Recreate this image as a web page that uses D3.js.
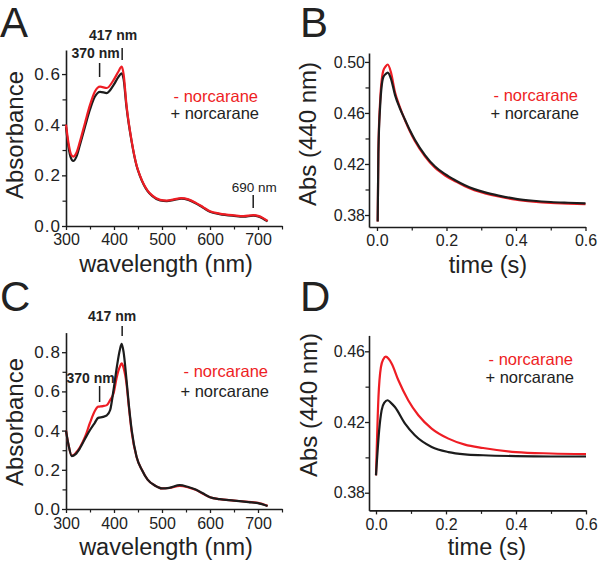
<!DOCTYPE html>
<html><head><meta charset="utf-8">
<script src="https://cdn.jsdelivr.net/npm/d3@7"></script>
<style>
body{margin:0;background:#fff}
svg{display:block;font-family:"Liberation Sans",Arial,Helvetica,sans-serif}
</style></head><body>
<svg id="c" width="600" height="562"></svg>
<script>
// ---------- DATA ----------
// Panel A: UV-vis spectra
const wavelengthA = [300,305,310,315,322,329,340,350,360,371,385,399,409,416,420,426,437,447,454,462,470,480,496,510,525,540,555,570,585,600,620,650,670,690,700,710,720];
const absA_minus  = [.40,.33,.285,.274,.29,.333,.41,.478,.53,.55,.545,.576,.609,.629,.60,.478,.333,.24,.20,.165,.14,.12,.103,.10,.105,.11,.105,.092,.075,.058,.049,.042,.039,.043,.04,.032,.02];
const absA_plus   = [.39,.315,.27,.257,.275,.32,.395,.46,.51,.53,.525,.556,.588,.603,.58,.47,.33,.238,.198,.163,.138,.118,.101,.098,.103,.108,.103,.09,.073,.056,.047,.04,.037,.041,.038,.03,.018];
// Panel C: UV-vis spectra
const wavelengthC = [300,305,312,320,329,340,350,360,367,377,385,392,399,406,412,416,420,426,431,437,447,458,470,485,500,515,537,555,570,585,600,620,650,680,700,720];
const absC_minus  = [.40,.33,.272,.285,.315,.37,.44,.50,.522,.525,.53,.556,.59,.675,.725,.743,.72,.64,.52,.39,.265,.20,.15,.12,.105,.107,.118,.11,.098,.078,.06,.05,.043,.036,.031,.016];
const absC_plus   = [.40,.33,.27,.28,.31,.36,.403,.44,.465,.47,.478,.505,.607,.726,.81,.842,.80,.66,.53,.40,.267,.20,.15,.12,.105,.108,.122,.112,.10,.08,.06,.05,.043,.035,.03,.015];
// Panel B: kinetics at 440 nm
const timeB      = [0.002,0.004,0.009,0.018,0.025,0.031,0.04,0.052,0.065,0.081,0.095,0.109,0.138,0.167,0.196,0.225,0.253,0.28,0.311,0.35,0.4,0.45,0.5,0.55,0.6];
const absB_minus = [.375,.43,.469,.493,.4965,.498,.492,.476,.4652,.454,.4454,.438,.426,.417,.411,.4065,.4025,.3995,.397,.3945,.392,.3905,.3895,.389,.3885];
const absB_plus  = [.375,.428,.465,.488,.4905,.4916,.487,.474,.4642,.4545,.4462,.439,.427,.418,.412,.4073,.4033,.4003,.3977,.3952,.3927,.3912,.3902,.3896,.3891];
// Panel D: kinetics at 440 nm
const timeD_minus = [0.0,0.007,0.014,0.021,0.028,0.036,0.045,0.064,0.092,0.121,0.159,0.207,0.254,0.306,0.4,0.5,0.6];
const absD_minus  = [.3898,.434,.451,.4555,.457,.4558,.453,.4436,.4323,.4238,.4163,.4106,.4072,.4053,.4030,.4022,.4018];
const timeD_plus  = [0.0,0.009,0.016,0.024,0.033,0.042,0.054,0.083,0.111,0.159,0.207,0.254,0.306,0.4,0.5,0.6];
const absD_plus   = [.3898,.4153,.4266,.431,.4323,.431,.4285,.4191,.4125,.4059,.403,.4017,.4012,.4007,.4005,.4005];
// Ticks
const specMajorX = [300,400,500,600,700];
const specMinorX = [350,450,550,650,750];
const specMajorYA = [0.0,0.2,0.4,0.6];
const specMinorYA = [0.1,0.3,0.5];
const specMajorYC = [0.0,0.2,0.4,0.6,0.8];
const specMinorYC = [0.1,0.3,0.5,0.7];
const timeMajorX = [0.0,0.2,0.4,0.6];
const timeMinorX = [0.1,0.3,0.5];
const kinMajorYB = [0.38,0.42,0.46,0.50];
const kinMinorYB = [0.40,0.44,0.48];
const kinMajorYD = [0.38,0.42,0.46];
const kinMinorYD = [0.40,0.44];
const legendLabels = ["- norcarane", "+ norcarane"];

// ---------- DRAW ----------
const svg = d3.select("#c");
const RED = "#ee1d24", BLACK = "#1c1c1c", TXT = "#222";

function panel(p){
  const x = d3.scaleLinear().domain(p.xDomain).range(p.xRange);
  const y = d3.scaleLinear().domain(p.yDomain).range(p.yRange);
  const g = svg.append("g");
  const x0 = p.xRange[0], y0 = p.yRange[0];

  const styleAxis = s => {
    s.attr("font-family", null).attr("font-size", null);
    s.select(".domain").attr("stroke", BLACK).attr("stroke-width", 1.6);
    s.selectAll(".tick line").attr("stroke", BLACK).attr("stroke-width", 1.3);
    s.selectAll(".tick text").attr("fill", TXT);
  };
  // minor ticks
  g.append("g").attr("transform", `translate(0,${y0})`)
    .call(d3.axisBottom(x).tickValues(p.xMinor).tickSize(3.5).tickFormat("").tickSizeOuter(0))
    .call(s => s.select(".domain").remove())
    .call(s => s.selectAll(".tick line").attr("stroke", BLACK).attr("stroke-width", 1.2));
  g.append("g").attr("transform", `translate(${x0},0)`)
    .call(d3.axisLeft(y).tickValues(p.yMinor).tickSize(3.5).tickFormat("").tickSizeOuter(0))
    .call(s => s.select(".domain").remove())
    .call(s => s.selectAll(".tick line").attr("stroke", BLACK).attr("stroke-width", 1.2));
  // major axes
  const xa = g.append("g").attr("transform", `translate(0,${y0})`)
    .call(d3.axisBottom(x).tickValues(p.xMajor).tickSize(4).tickPadding(p.xPad).tickSizeOuter(0).tickFormat(p.xFmt))
    .call(styleAxis);
  xa.selectAll(".tick text").attr("font-size", 16);
  const ya = g.append("g").attr("transform", `translate(${x0},0)`)
    .call(d3.axisLeft(y).tickValues(p.yMajor).tickSize(4).tickPadding(p.yPad).tickSizeOuter(0).tickFormat(p.yFmt))
    .call(styleAxis);
  ya.selectAll(".tick text").attr("font-size", p.yFont).attr("letter-spacing", p.yLS);

  // curves
  const line = d3.line().x(d => x(d[0])).y(d => y(d[1])).curve(d3.curveMonotoneX);
  p.series.forEach(s => {
    g.append("path").datum(d3.zip(s.x, s.y))
      .attr("fill", "none").attr("stroke", s.color).attr("stroke-width", 2.2)
      .attr("stroke-linejoin", "round").attr("d", line);
  });

  // axis labels
  g.append("text").attr("x", p.xLabelPos[0]).attr("y", p.xLabelPos[1])
    .attr("text-anchor", "middle").attr("font-size", 23.5).attr("fill", TXT).text(p.xLabel);
  g.append("text").attr("transform", `translate(${p.yLabelPos[0]},${p.yLabelPos[1]}) rotate(-90)`)
    .attr("text-anchor", "middle").attr("font-size", 24).attr("fill", TXT).text(p.yLabel);

  // panel letter
  g.append("text").attr("x", p.letterPos[0]).attr("y", p.letterPos[1])
    .attr("font-size", 42).attr("fill", TXT).text(p.letter);

  // legend
  g.append("text").attr("x", p.legendPos[0]).attr("y", p.legendPos[1])
    .attr("text-anchor", "end").attr("font-size", 16.5).attr("fill", RED).text(legendLabels[0]);
  g.append("text").attr("x", p.legendPos[0] + 1).attr("y", p.legendPos[1] + p.legendGap)
    .attr("text-anchor", "end").attr("font-size", 16.5).attr("fill", TXT).text(legendLabels[1]);

  // annotations
  (p.notes || []).forEach(n => {
    const lx = x(n.wl);
    g.append("line").attr("x1", lx).attr("x2", lx).attr("y1", n.tick[0]).attr("y2", n.tick[1])
      .attr("stroke", BLACK).attr("stroke-width", 1.5);
    g.append("text").attr("x", lx + n.dx).attr("y", n.ty).attr("text-anchor", "middle")
      .attr("font-size", n.size).attr("font-weight", n.bold ? "bold" : "normal")
      .attr("fill", TXT).text(n.label);
  });
  return {x, y};
}

const fmt1 = d3.format(".1f"), fmt2 = d3.format(".2f"), fmt0 = d3.format("d");

panel({
  letter: "A", letterPos: [0, 37],
  xDomain: [300, 750], xRange: [66, 282],
  yDomain: [0, 0.695], yRange: [226, 50],
  xMajor: specMajorX, xMinor: specMinorX, yMajor: specMajorYA, yMinor: specMinorYA,
  xFmt: fmt0, yFmt: fmt1, xPad: 4, yPad: 1, yFont: 17, yLS: 1,
  xLabel: "wavelength (nm)", xLabelPos: [166, 272],
  yLabel: "Absorbance", yLabelPos: [23, 135],
  legendPos: [258, 102], legendGap: 17,
  series: [
    {x: wavelengthA, y: absA_plus, color: BLACK},
    {x: wavelengthA, y: absA_minus, color: RED}
  ],
  notes: [
    {wl: 417, tick: [48, 60], label: "417 nm", dx: -9, ty: 40, bold: true, size: 14},
    {wl: 370, tick: [63, 77], label: "370 nm", dx: -4, ty: 58, bold: true, size: 14},
    {wl: 690, tick: [195, 208], label: "690 nm", dx: 1, ty: 192, bold: false, size: 13.5}
  ]
});

panel({
  letter: "B", letterPos: [300, 37],
  xDomain: [-0.023, 0.6], xRange: [369, 585.5],
  yDomain: [0.3706, 0.507], yRange: [227, 53],
  xMajor: timeMajorX, xMinor: timeMinorX, yMajor: kinMajorYB, yMinor: kinMinorYB,
  xFmt: fmt1, yFmt: fmt2, xPad: 4, yPad: 0, yFont: 16, yLS: 0,
  xLabel: "time (s)", xLabelPos: [488, 273],
  yLabel: "Abs (440 nm)", yLabelPos: [316, 134],
  legendPos: [578, 101], legendGap: 18,
  series: [
    {x: timeB, y: absB_minus, color: RED},
    {x: timeB, y: absB_plus, color: BLACK}
  ]
});

panel({
  letter: "C", letterPos: [0, 311],
  xDomain: [300, 750], xRange: [66, 282],
  yDomain: [0, 0.9], yRange: [509, 332.6],
  xMajor: specMajorX, xMinor: specMinorX, yMajor: specMajorYC, yMinor: specMinorYC,
  xFmt: fmt0, yFmt: fmt1, xPad: 5, yPad: 1, yFont: 17, yLS: 1,
  xLabel: "wavelength (nm)", xLabelPos: [166, 555],
  yLabel: "Absorbance", yLabelPos: [23, 422],
  legendPos: [268, 377], legendGap: 20,
  series: [
    {x: wavelengthC, y: absC_minus, color: RED},
    {x: wavelengthC, y: absC_plus, color: BLACK}
  ],
  notes: [
    {wl: 417, tick: [326, 336], label: "417 nm", dx: -10, ty: 321, bold: true, size: 14},
    {wl: 370, tick: [386, 402], label: "370 nm", dx: -9, ty: 383, bold: true, size: 14}
  ]
});

panel({
  letter: "D", letterPos: [300, 311],
  xDomain: [-0.02, 0.6], xRange: [369, 586],
  yDomain: [0.370, 0.469], yRange: [510.4, 335.4],
  xMajor: timeMajorX, xMinor: timeMinorX, yMajor: kinMajorYD, yMinor: kinMinorYD,
  xFmt: fmt1, yFmt: fmt2, xPad: 4, yPad: 0, yFont: 16, yLS: 0,
  xLabel: "time (s)", xLabelPos: [487, 555],
  yLabel: "Abs (440 nm)", yLabelPos: [317, 405],
  legendPos: [573, 365], legendGap: 18,
  series: [
    {x: timeD_minus, y: absD_minus, color: RED},
    {x: timeD_plus, y: absD_plus, color: BLACK}
  ]
});
</script>
</body></html>
